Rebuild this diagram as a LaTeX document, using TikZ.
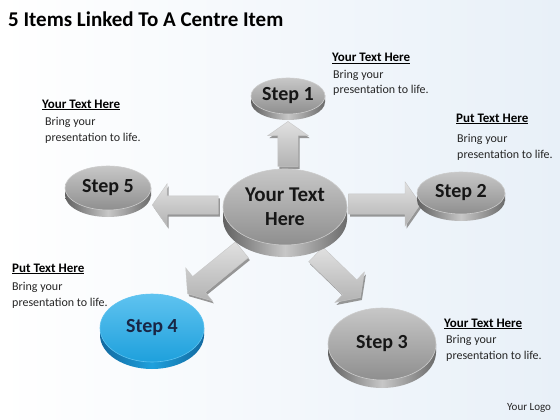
\documentclass[tikz,border=0pt]{standalone}
\usepackage{fontspec}
\setmainfont{Carlito}
\usetikzlibrary{shapes.geometric,shapes.arrows,shadows,calc}
\definecolor{bluetop}{RGB}{30,160,220}
\definecolor{bluerim}{RGB}{95,195,240}
\definecolor{blueside}{RGB}{18,105,160}
\definecolor{bgblue}{RGB}{232,240,248}
\definecolor{txt}{RGB}{22,22,22}
\definecolor{navy}{RGB}{25,38,70}
\tikzset{
  gface/.style={ellipse, inner sep=0pt, draw=black!20, line width=0.6pt,
    top color=black!22, bottom color=black!44, text=txt,
    font=\fontsize{20}{24}\selectfont\bfseries},
  gside/.style={left color=black!62, right color=black!58, middle color=black!22},
  bface/.style={ellipse, inner sep=0pt, draw=bluerim, line width=0.6pt,
    top color=bluerim, bottom color=bluetop, text=navy,
    font=\fontsize{20}{24}\selectfont\bfseries},
  bside/.style={left color=blueside, right color=blueside, middle color=bluetop},
  blockarrow/.style={single arrow, inner sep=0pt, draw=black!22, line width=0.4pt,
    top color=black!12, bottom color=black!30,
    single arrow tip angle=110,
    drop shadow={shadow xshift=1.5pt, shadow yshift=-2.5pt, fill=black!45, opacity=0.9}},
  head/.style={anchor=base west, inner sep=0pt, text=black,
    font=\fontsize{13}{15}\selectfont\bfseries},
  body/.style={anchor=base west, align=left, inner sep=0pt, text=black!85,
    font=\fontsize{12}{15.5}\selectfont},
}
% #1 name, #2 x, #3 y, #4 rx, #5 ry, #6 thickness, #7 g/b, #8 label
\newcommand\mydisk[8]{%
  \shade[#7side] (#2-#4,#3) rectangle (#2+#4,#3+#6);
  \shade[#7side] (#2,#3+#6) ellipse [x radius=#4, y radius=#5];
  \node[#7face, minimum width=#4*2pt, minimum height=#5*2pt, align=center] (#1) at (#2,#3) {#8};
}
\begin{document}
\begin{tikzpicture}[x=1pt,y=-1pt]
\useasboundingbox (0,0) rectangle (560,420);
\shade[left color=white, right color=bgblue] (0,0) rectangle (560,420);

\node[anchor=west, inner sep=0pt, font=\fontsize{21}{24}\selectfont\bfseries] (title) at (8,19) {5 Items Linked To A Centre Item};

% arrows (behind disks)
\node[blockarrow, minimum height=45pt, minimum width=40pt, single arrow head extend=10pt, inner ysep=10pt, rotate=90] (a1) at (288,147.5) {};
\node[blockarrow, minimum height=72pt, minimum width=44pt, single arrow head extend=12pt, inner ysep=10pt] (a2) at (381,204) {};
\node[blockarrow, minimum height=66pt, minimum width=42pt, single arrow head extend=12pt, inner ysep=9pt, rotate=180] (a5) at (188.5,205) {};
\node[blockarrow, minimum height=70pt, minimum width=42pt, single arrow head extend=11pt, inner ysep=10pt, rotate=219] (a4) at (217.5,269.5) {};
\node[blockarrow, minimum height=62pt, minimum width=42pt, single arrow head extend=11pt, inner ysep=10pt, rotate=-44] (a3) at (335.5,273.5) {};

% disks
\mydisk{s1}{288}{96}{37}{18}{6}{g}{Step 1}
\mydisk{s2}{461}{193}{44}{21}{7}{g}{Step 2}
\mydisk{s5}{108}{188}{43}{22}{7}{g}{Step 5}
\mydisk{c}{285}{207}{62}{38}{12}{g}{\fontsize{21}{24}\selectfont Your Text\\Here}
\mydisk{s4}{152}{328}{52}{34}{7}{b}{Step 4}
\mydisk{s3}{382}{344}{54}{36}{8}{g}{Step 3}

% texts
\node[head] (h1) at (332,62) {\underline{Your Text Here}};
\node[body] (b1) at (333,94) {Bring your\\presentation to life.};
\node[head] (h2) at (456,122) {\underline{Put Text Here}};
\node[body] (b2) at (457,158) {Bring your\\presentation to life.};
\node[head] (h5) at (42,108) {\underline{Your Text Here}};
\node[body] (b5) at (45,141) {Bring your\\presentation to life.};
\node[head] (h4) at (12,272) {\underline{Put Text Here}};
\node[body] (b4) at (12,306) {Bring your\\presentation to life.};
\node[head] (h3) at (444,327) {\underline{Your Text Here}};
\node[body] (b3) at (446,359) {Bring your\\presentation to life.};
\node[anchor=base west, inner sep=0pt, font=\fontsize{11}{13}\selectfont, text=black!85] (logo) at (507,410) {Your Logo};
\end{tikzpicture}
\end{document}
